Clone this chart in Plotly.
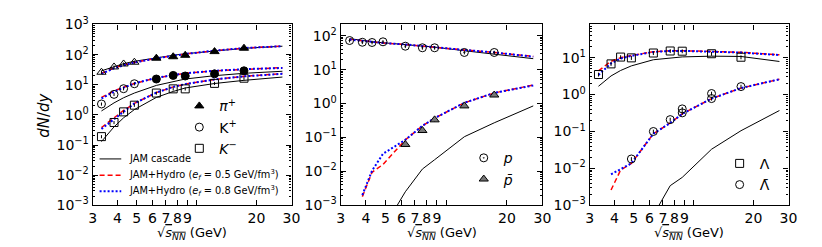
import plotly.graph_objects as go

# collision energies (GeV)
ags_s = [3.32, 3.84, 4.29, 4.86]
sps_s = [6.27, 7.62, 8.76, 12.3, 17.3]
curve_s = [3.32, 3.84, 4.29, 4.86, 6.27, 7.62, 8.76, 12.3, 17.3, 27.0]
curve_s_anti = [3.84, 4.29, 4.86, 6.27, 7.62, 8.76, 12.3, 17.3, 27.0]

# data points
pip_ags = [26, 39, 49, 56]
pip_sps = [76, 85, 95, 126, 163]
kp_ags = [2.3, 4.8, 7.4, 10.8]
kp_sps = [15.5, 20.4, 19.5, 23, 29]
km_all = [0.19, 0.56, 1.26, 2.1, 5.3, 7.3, 7.3, 11.1, 16.5]
p_all = [72, 64, 63, 66, 49, 44, 44, 32, 32]
pbar_sps = [0.062, 0.16, 0.33, 0.85, 1.78]
lam_all = [3.5, 6.8, 10.4, 9.9, 13.4, 15.2, 15.0, 12.8, 10.3]
lbar_s = [4.86, 6.27, 7.62, 8.76, 8.76, 12.3, 12.3, 17.3]
lbar_all = [0.018, 0.1, 0.21, 0.41, 0.32, 1.07, 0.78, 1.65]

# model curves: cascade, hydro e_f=0.5, hydro e_f=0.8
pip_cas = [29, 40, 50, 60, 80, 95, 107, 135, 162, 190]
pip_h05 = [24, 36, 45, 55, 75, 92, 105, 135, 165, 192]
pip_h08 = [23, 35, 44, 55, 75, 92, 105, 135, 165, 190]
kp_cas = [1.35, 2.5, 3.7, 5.3, 9.5, 13, 15.5, 20, 24, 28]
kp_h05 = [3.8, 6.2, 8.3, 11, 17, 21, 24, 29, 33, 37]
kp_h08 = [3.5, 5.9, 8.0, 11, 17, 21, 24, 29, 33, 36]
km_cas = [0.13, 0.4, 0.8, 1.5, 3.8, 6, 7.8, 11, 14, 18]
km_h05 = [0.38, 0.78, 1.4, 2.4, 5.5, 8.5, 10.5, 15, 19, 23.5]
km_h08 = [0.34, 0.72, 1.35, 2.4, 5.5, 8.5, 10.5, 15, 19, 23]
p_cas = [82, 72, 66, 62, 55, 50, 46, 36, 29, 21]
p_h05 = [78, 70, 65, 61, 55, 50, 47, 38, 32, 24.5]
p_h08 = [77, 70, 65, 61, 55, 50, 47, 38, 32, 24]
pbar_cas = [0.00003, 0.00007, 0.0002, 0.0025, 0.0117, 0.022, 0.105, 0.27, 0.85]
pbar_h05 = [0.0018, 0.0094, 0.016, 0.085, 0.22, 0.37, 1.05, 2.05, 3.5]
pbar_h08 = [0.002, 0.0105, 0.033, 0.085, 0.22, 0.37, 1.05, 2.05, 3.4]
lam_cas = [1.68, 3.2, 4.5, 6.0, 8.8, 10.0, 10.5, 11.0, 10.8, 7.9]
lam_h05 = [4.4, 8.0, 10.0, 11.5, 14.5, 15.5, 15.5, 15.0, 14.0, 12.0]
lam_h08 = [3.4, 7.0, 9.5, 11.2, 14.3, 15.3, 15.3, 14.8, 13.8, 11.8]
lbar_cas = [0.00001, 0.00004, 0.0001, 0.00054, 0.0034, 0.0057, 0.033, 0.105, 0.37]
lbar_h05 = [0.0026, 0.009, 0.0137, 0.087, 0.17, 0.3, 0.78, 1.5, 2.6]
lbar_h08 = [0.0069, 0.0093, 0.0137, 0.087, 0.17, 0.3, 0.78, 1.5, 2.6]

model_names = ["JAM cascade",
               "JAM+Hydro (<i>e<sub>f</sub></i> = 0.5 GeV/fm<sup>3</sup>)",
               "JAM+Hydro (<i>e<sub>f</sub></i> = 0.8 GeV/fm<sup>3</sup>)"]

FONT = "DejaVu Sans"
RED = "#ff0000"
BLUE = "#0000ff"
model_lines = [dict(color="black", width=1),
               dict(color=RED, width=1.5, dash="5px,3px"),
               dict(color=BLUE, width=2, dash="2px,2px")]

fig = go.Figure()


def add_curves(xs, cas, h05, h08, panel):
    xa = "x" if panel == 1 else "x%d" % panel
    ya = "y" if panel == 1 else "y%d" % panel
    for ys, ln, nm in zip([cas, h05, h08], model_lines, model_names):
        fig.add_trace(go.Scatter(x=xs, y=ys, mode="lines", xaxis=xa, yaxis=ya,
                                 line=ln, name=nm, showlegend=False))


def add_points(xs, ys, panel, symbol, name, legend, showlegend, fill="black", size=8):
    xa = "x" if panel == 1 else "x%d" % panel
    ya = "y" if panel == 1 else "y%d" % panel
    fig.add_trace(go.Scatter(
        x=xs, y=ys, mode="markers", xaxis=xa, yaxis=ya, name=name,
        marker=dict(symbol=symbol, size=size, color=fill,
                    line=dict(color="black", width=1)),
        error_y=dict(type="percent", value=12, thickness=1, width=0, color="black"),
        showlegend=showlegend, legend=legend))


# panel 1: pi+, K+, K-
add_curves(curve_s, pip_cas, pip_h05, pip_h08, 1)
add_curves(curve_s, kp_cas, kp_h05, kp_h08, 1)
add_curves(curve_s, km_cas, km_h05, km_h08, 1)
add_points(ags_s, pip_ags, 1, "triangle-up-open", "<i>π</i><sup>+</sup>", "legend2", False)
add_points(sps_s, pip_sps, 1, "triangle-up", "<i>π</i><sup>+</sup>", "legend2", True)
add_points(ags_s, kp_ags, 1, "circle-open", "K<sup>+</sup>", "legend2", True)
add_points(sps_s, kp_sps, 1, "circle", "K<sup>+</sup>", "legend2", False)
add_points(ags_s + sps_s, km_all, 1, "square-open", "<i>K</i><sup>−</sup>", "legend2", True)

# panel 2: p, pbar
add_curves(curve_s, p_cas, p_h05, p_h08, 2)
add_curves(curve_s_anti, pbar_cas, pbar_h05, pbar_h08, 2)
add_points(ags_s + sps_s, p_all, 2, "circle-open-dot", "<i>p</i>", "legend3", True)
add_points(sps_s, pbar_sps, 2, "triangle-up", "<i>p\u0304</i>", "legend3", True, fill="#777777")

# panel 3: Lambda, anti-Lambda
add_curves(curve_s, lam_cas, lam_h05, lam_h08, 3)
add_curves(curve_s_anti, lbar_cas, lbar_h05, lbar_h08, 3)
add_points(ags_s + sps_s, lam_all, 3, "square-open", "Λ", "legend4", True)
add_points(lbar_s, lbar_all, 3, "circle-open", "Λ\u0304", "legend4", True)

W, H = 822, 247
top = 1 - 7 / H
bot = 1 - 202 / H
domains = [(82 / W, 284 / W), (334 / W, 539 / W), (587 / W, 789 / W)]
yranges = [(-3, 3), (-3, 2.33), (-3, 1.9)]

xticks = [3, 4, 5, 6, 7, 8, 9, 10, 20, 30]
xtext = ["3", "4", "5", "6", "7", "8", "9", "", "20", "30"]
axis_common = dict(showline=True, linecolor="black", linewidth=1.2, mirror="allticks",
                   ticks="inside", ticklen=5, tickwidth=1, tickcolor="black",
                   showgrid=False, zeroline=False, tickangle=0,
                   tickfont=dict(family=FONT, size=14, color="black"))

layout = dict(width=W, height=H, margin=dict(l=0, r=0, t=0, b=0),
              plot_bgcolor="white", paper_bgcolor="white",
              font=dict(family=FONT, color="black"))

for i, (dom, yr) in enumerate(zip(domains, yranges)):
    sfx = "" if i == 0 else str(i + 1)
    anchor = "y" + sfx
    lo, hi = yr
    majors = [e for e in range(-3, 4) if lo <= e <= hi]
    minors = [m * 10 ** e for e in range(-4, 4) for m in range(2, 10)]
    layout["xaxis" + sfx] = dict(type="log", domain=list(dom), anchor=anchor,
                                 range=[0.4771, 1.4771], tickmode="array",
                                 tickvals=xticks, ticktext=xtext, **axis_common)
    layout["yaxis" + sfx] = dict(type="log", domain=[bot, top], anchor="x" + sfx,
                                 range=[lo, hi], tickmode="array",
                                 tickvals=[10 ** e for e in majors],
                                 ticktext=["10<sup>%s</sup>" % str(e).replace("-", "−") for e in majors],
                                 minor=dict(tickmode="array", tickvals=minors, ticks="inside",
                                            ticklen=2.5, tickcolor="black", showgrid=False),
                                 **axis_common)

layout["legend2"] = dict(x=170 / W, y=1 - 78 / H, xanchor="left", yanchor="top",
                         bgcolor="rgba(0,0,0,0)", font=dict(family=FONT, size=14),
                         itemwidth=30)
layout["legend3"] = dict(x=459 / W, y=1 - 134 / H, xanchor="left", yanchor="top",
                         bgcolor="rgba(0,0,0,0)", font=dict(family=FONT, size=14),
                         itemwidth=30)
layout["legend4"] = dict(x=719 / W, y=1 - 140 / H, xanchor="left", yanchor="top",
                         bgcolor="rgba(0,0,0,0)", font=dict(family=FONT, size=14),
                         itemwidth=30)

# hand-drawn legend for the model curves (panel 1, lower left)
shapes = []
annotations = []
for k, (ln, nm) in enumerate(zip(model_lines, model_names)):
    yy = 1 - (152 + 17.5 * k) / H
    shapes.append(dict(type="line", xref="paper", yref="paper",
                       x0=89 / W, x1=111 / W, y0=yy, y1=yy, line=ln))
    annotations.append(dict(text=nm, x=117 / W, y=yy, xref="paper", yref="paper",
                            showarrow=False, xanchor="left", yanchor="middle",
                            font=dict(family=FONT, size=9.8, color="black")))

xtitle = "√<span style='text-decoration:overline'><i>s<sub>NN</sub></i></span> (GeV)"
annotations.append(dict(text="<i>dN</i>/<i>dy</i>", x=33 / W, y=1 - 105 / H, xref="paper",
                        yref="paper", showarrow=False, textangle=-90,
                        xanchor="center", yanchor="middle",
                        font=dict(family=FONT, size=15, color="black")))
for dom in domains:
    annotations.append(dict(text=xtitle, x=(dom[0] + dom[1]) / 2, y=1 - 232 / H,
                            xref="paper", yref="paper", showarrow=False,
                            xanchor="center", yanchor="middle",
                            font=dict(family=FONT, size=13, color="black")))
layout["annotations"] = annotations
layout["shapes"] = shapes

fig.update_layout(**layout)
fig.write_html("out.html")
